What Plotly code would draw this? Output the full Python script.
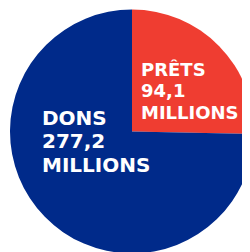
import plotly.graph_objects as go

labels = ["PRÊTS", "DONS"]
values = [94.1, 277.2]
colors = ["#EF3D31", "#002A8A"]
unit = "MILLIONS"

W, H = 250, 252

fig = go.Figure(go.Pie(
    labels=labels, values=values, sort=False, direction="clockwise", rotation=0,
    marker=dict(colors=colors, line=dict(width=0)),
    textinfo="none", hoverinfo="skip", showlegend=False,
    domain=dict(x=[2 / W, 246 / W], y=[6.5 / H, 250.5 / H]),
))

def fmt(v):
    return f"{v:.1f}".replace(".", ",")

# label block layout: left x (px), first line centre y (px from top), line pitch, font size
blocks = {"PRÊTS": (131.0, 61.0, 21.7, 18), "DONS": (32.0, 110.0, 23.3, 20)}
for lab, val in zip(labels, values):
    x0, y0, pitch, size = blocks[lab]
    for i, line in enumerate([lab, fmt(val), unit]):
        fig.add_annotation(x=x0 / W, y=1 - (y0 + i * pitch) / H, xref="paper", yref="paper",
                           xanchor="left", yanchor="middle", text=line, showarrow=False,
                           font=dict(family="DejaVu Sans", size=size, color="white", weight="bold"))

fig.update_layout(width=W, height=H, margin=dict(l=0, r=0, t=0, b=0),
                  paper_bgcolor="white", plot_bgcolor="white")
fig.write_html("out.html")
